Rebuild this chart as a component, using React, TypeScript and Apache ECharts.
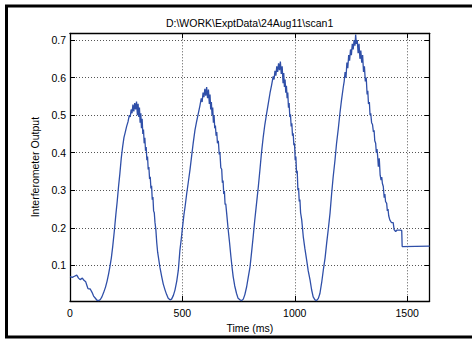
import React, { useEffect, useRef } from "react";
import * as echarts from "echarts";

const titleText = "D:\\WORK\\ExptData\\24Aug11\\scan1";
const xName = "Time (ms)";
const yName = "Interferometer Output";
const xTicks = [0, 500, 1000, 1500];
const yTicks = [0.1, 0.2, 0.3, 0.4, 0.5, 0.6, 0.7];

// [time ms, output]
const startSegment: [number, number][] = [
  [0, 0.07], [10, 0.068], [20, 0.071], [30, 0.074], [38, 0.066], [45, 0.062], [55, 0.066], [62, 0.06],
  [70, 0.056], [76, 0.045], [80, 0.038], [90, 0.037], [98, 0.028], [105, 0.018], [112, 0.013],
  [120, 0.007], [128, 0.006], [135, 0.009], [142, 0.016],
];

const hump1: [number, number][] = [
  [150, 0.028], [158, 0.042], [165, 0.058], [172, 0.078], [178, 0.098], [184, 0.12], [190, 0.15],
  [197, 0.19], [204, 0.235], [210, 0.27], [216, 0.31], [222, 0.345], [228, 0.385], [234, 0.415],
  [240, 0.44], [246, 0.455], [252, 0.47], [258, 0.482], [264, 0.5], [268, 0.495], [272, 0.515],
  [276, 0.505], [280, 0.528], [284, 0.51], [288, 0.532], [292, 0.515], [296, 0.536], [300, 0.5],
  [303, 0.53], [306, 0.495], [309, 0.52], [312, 0.48], [315, 0.505], [318, 0.465], [321, 0.49],
  [324, 0.45], [327, 0.462], [330, 0.425], [333, 0.44], [336, 0.405], [339, 0.415], [342, 0.38],
  [345, 0.39], [348, 0.355], [351, 0.362], [354, 0.33], [357, 0.336], [360, 0.305], [363, 0.312],
  [366, 0.275], [369, 0.282], [372, 0.245], [375, 0.24], [378, 0.215], [382, 0.195], [386, 0.16],
  [390, 0.135], [393, 0.123], [400, 0.095], [408, 0.07], [415, 0.05], [423, 0.034], [430, 0.022],
  [437, 0.012], [445, 0.008], [452, 0.01], [460, 0.02],
];

const hump2: [number, number][] = [
  [467, 0.034], [475, 0.058], [482, 0.087], [489, 0.14], [495, 0.17], [501, 0.203], [507, 0.235],
  [512, 0.256], [519, 0.29], [526, 0.32], [534, 0.355], [541, 0.39], [548, 0.425], [556, 0.46],
  [563, 0.482], [571, 0.505], [578, 0.525], [584, 0.545], [588, 0.535], [592, 0.56], [596, 0.548],
  [600, 0.57], [604, 0.552], [608, 0.575], [612, 0.545], [616, 0.568], [620, 0.53], [623, 0.555],
  [626, 0.515], [629, 0.535], [632, 0.5], [635, 0.52], [638, 0.48], [641, 0.5], [644, 0.465],
  [647, 0.472], [650, 0.445], [653, 0.455], [656, 0.425], [660, 0.432], [664, 0.395], [667, 0.402],
  [671, 0.36], [675, 0.356], [678, 0.32], [681, 0.326], [684, 0.29], [687, 0.298], [690, 0.262],
  [693, 0.264], [697, 0.239], [704, 0.194], [710, 0.16], [716, 0.123], [721, 0.095], [726, 0.07],
  [733, 0.045], [741, 0.025], [748, 0.012], [756, 0.008], [764, 0.006], [771, 0.01], [778, 0.022],
];

const hump3: [number, number][] = [
  [786, 0.043], [793, 0.068], [801, 0.096], [808, 0.135], [815, 0.176], [822, 0.22], [830, 0.265],
  [838, 0.31], [845, 0.354], [852, 0.4], [860, 0.443], [867, 0.475], [875, 0.505], [882, 0.53],
  [890, 0.559], [897, 0.58], [904, 0.603], [908, 0.595], [912, 0.618], [916, 0.605], [920, 0.63],
  [924, 0.615], [928, 0.638], [932, 0.62], [936, 0.643], [940, 0.61], [944, 0.63], [948, 0.585],
  [951, 0.612], [954, 0.575], [957, 0.595], [960, 0.56], [963, 0.578], [966, 0.545], [969, 0.56],
  [972, 0.52], [975, 0.532], [978, 0.495], [981, 0.502], [984, 0.47], [987, 0.478], [990, 0.445],
  [993, 0.452], [996, 0.42], [999, 0.425], [1002, 0.38], [1005, 0.39], [1008, 0.345], [1011, 0.352],
  [1014, 0.3], [1017, 0.306], [1020, 0.27], [1023, 0.275], [1026, 0.24], [1031, 0.221],
  [1038, 0.176], [1045, 0.145], [1053, 0.114], [1060, 0.085], [1068, 0.061], [1075, 0.035],
  [1082, 0.016], [1090, 0.008], [1097, 0.006], [1105, 0.012], [1112, 0.025],
];

const hump4: [number, number][] = [
  [1120, 0.055], [1127, 0.087], [1135, 0.12], [1142, 0.159], [1150, 0.2], [1157, 0.239],
  [1164, 0.29], [1171, 0.336], [1179, 0.38], [1186, 0.425], [1194, 0.465], [1201, 0.505],
  [1208, 0.54], [1216, 0.575], [1220, 0.59], [1224, 0.615], [1228, 0.6], [1232, 0.64],
  [1236, 0.625], [1240, 0.66], [1244, 0.645], [1248, 0.675], [1252, 0.66], [1256, 0.69],
  [1260, 0.675], [1264, 0.7], [1268, 0.685], [1271, 0.715], [1274, 0.69], [1278, 0.7],
  [1282, 0.665], [1286, 0.69], [1290, 0.65], [1294, 0.672], [1298, 0.64], [1302, 0.66],
  [1306, 0.615], [1310, 0.63], [1314, 0.59], [1318, 0.6], [1322, 0.555], [1325, 0.565],
  [1328, 0.53], [1332, 0.535], [1335, 0.5], [1338, 0.505], [1342, 0.48], [1346, 0.475],
  [1350, 0.455], [1353, 0.46], [1356, 0.432], [1360, 0.425], [1363, 0.4], [1366, 0.41],
  [1369, 0.39], [1372, 0.363], [1376, 0.385], [1380, 0.34], [1384, 0.327], [1387, 0.335],
  [1390, 0.318], [1394, 0.31], [1398, 0.28], [1401, 0.29], [1404, 0.27], [1409, 0.265],
  [1412, 0.245], [1415, 0.25], [1418, 0.232], [1423, 0.221], [1430, 0.214], [1438, 0.214],
  [1442, 0.195], [1449, 0.19], [1455, 0.194], [1468, 0.194], [1476, 0.193],
];

const tailSegment: [number, number][] = [
  [1478, 0.15], [1600, 0.151],
];

const FONT = "'Liberation Sans', Arial, sans-serif";

export default function App() {
  const ref = useRef<HTMLDivElement>(null);
  useEffect(() => {
    if (!ref.current) return;
    const chart = echarts.init(ref.current, null, { renderer: "svg" });
    const points = [...startSegment, ...hump1, ...hump2, ...hump3, ...hump4, ...tailSegment];
    const gridLine = { show: true, lineStyle: { color: "#555", type: [1, 2] as any, width: 1 } };
    const boxLine = { show: true, onZero: false, lineStyle: { color: "#000", width: 1.3 } };
    const tick = { show: true, inside: true, length: 5, lineStyle: { color: "#000", width: 1 } };
    const fmt = (v: number) => String(Math.round(v * 10) / 10);
    chart.setOption({
      animation: false,
      backgroundColor: "#fff",
      grid: { left: 70, top: 33.3, width: 359.6, height: 267.7, containLabel: false },
      xAxis: [
        {
          type: "value", min: 0, max: 1600, interval: 500, position: "bottom",
          axisLine: boxLine,
          axisTick: { ...tick, customValues: xTicks },
          splitLine: gridLine,
          axisLabel: { show: true, color: "#000", fontSize: 10.5, fontFamily: FONT, margin: 6,
            customValues: xTicks, formatter: (v: number) => String(v) },
          name: xName, nameLocation: "middle", nameGap: 16,
          nameTextStyle: { color: "#000", fontSize: 10.5, fontFamily: FONT },
        },
        {
          type: "value", min: 0, max: 1600, interval: 500, position: "top",
          axisLine: boxLine,
          axisTick: { ...tick, customValues: xTicks },
          splitLine: { show: false }, axisLabel: { show: false },
        },
      ],
      yAxis: [
        {
          type: "value", min: 0.005, max: 0.718, position: "left",
          axisLine: boxLine,
          axisTick: { ...tick, customValues: yTicks },
          splitLine: gridLine,
          axisLabel: { show: true, color: "#000", fontSize: 10.5, fontFamily: FONT, margin: 4,
            customValues: yTicks, formatter: fmt },
          name: yName, nameLocation: "middle", nameGap: 26,
          nameTextStyle: { color: "#000", fontSize: 10.5, fontFamily: FONT },
        },
        {
          type: "value", min: 0.005, max: 0.718, position: "right",
          axisLine: boxLine,
          axisTick: { ...tick, customValues: yTicks },
          splitLine: { show: false }, axisLabel: { show: false },
        },
      ],
      graphic: [
        {
          type: "rect", shape: { x: 6.5, y: 6, width: 480, height: 331 }, silent: true,
          style: { fill: "none", stroke: "#000", lineWidth: 3 },
        },
        {
          type: "text", x: 249.6, y: 23.3, silent: true,
          style: { text: titleText, align: "center", verticalAlign: "middle", fontSize: 10.5,
            fontFamily: FONT, fill: "#000" },
        },
      ],
      series: [
        {
          type: "line", xAxisIndex: 0, yAxisIndex: 0, data: points, showSymbol: false, symbol: "none",
          lineStyle: { color: "#2f4fa8", width: 1.3 }, clip: true,
        },
      ],
    });
    return () => chart.dispose();
  }, []);
  return <div ref={ref} style={{ position: "absolute", left: 0, top: 0, width: 472, height: 340 }} />;
}
